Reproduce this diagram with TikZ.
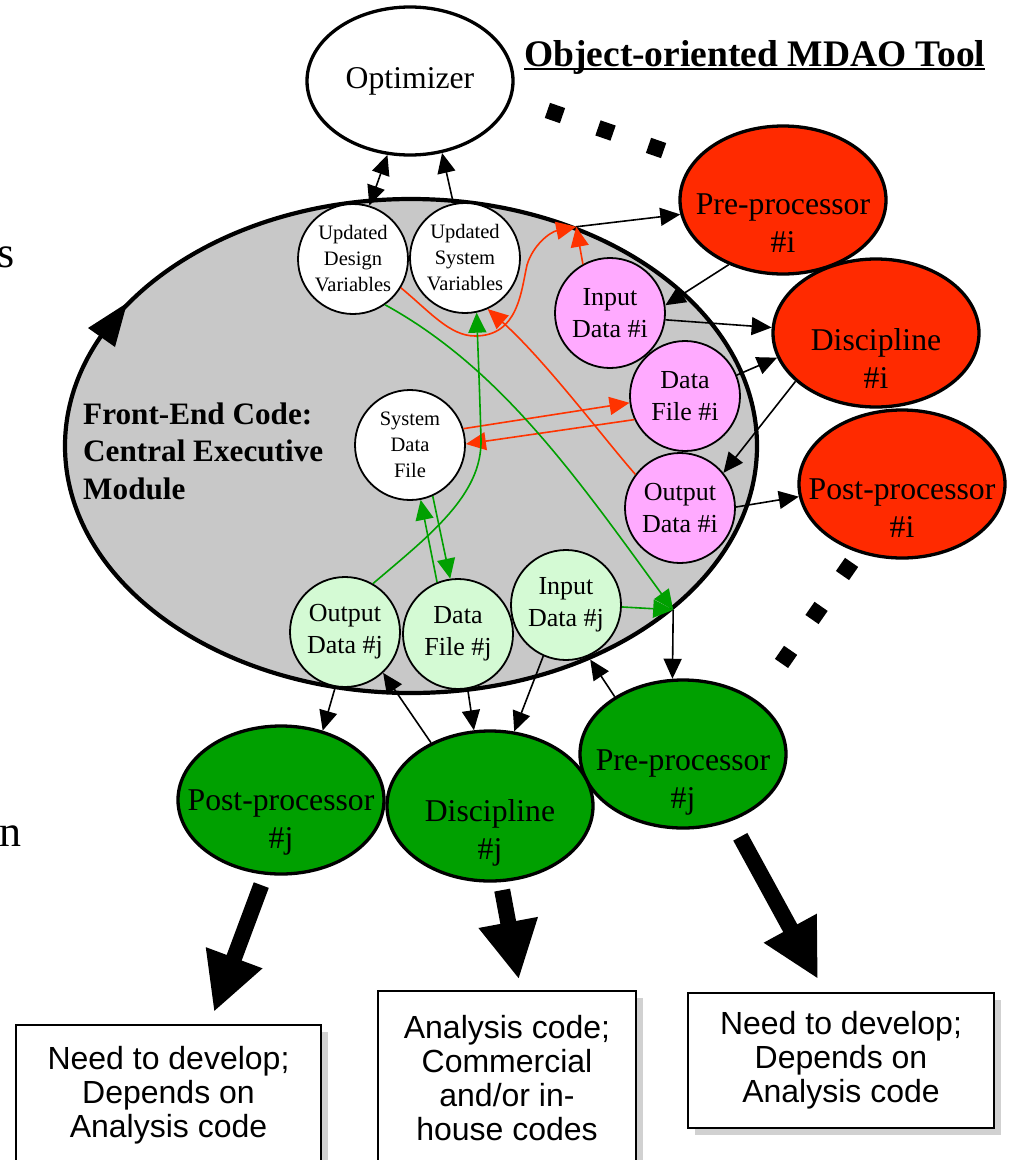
\documentclass[tikz,border=0pt]{standalone}
\usepackage{fontspec}
\setmainfont{Liberation Serif}
\newfontfamily\boxfont{Liberation Sans}
\usetikzlibrary{arrows.meta,shapes.geometric,shadows}
\definecolor{modgrey}{RGB}{200,200,200}
\definecolor{redfill}{RGB}{255,42,0}
\definecolor{redline}{RGB}{255,51,0}
\definecolor{greenfill}{RGB}{0,160,0}
\definecolor{greenline}{RGB}{0,160,0}
\definecolor{pinkfill}{RGB}{255,170,255}
\definecolor{lightgreen}{RGB}{212,250,212}
\newcommand\inell[2]{\makebox[0pt]{\raisebox{#1}[0pt][0pt]{\begin{tabular}{@{}c@{}}#2\end{tabular}}}}
\begin{document}
\begin{tikzpicture}[x=1pt,y=-1pt,
  every node/.style={inner sep=0pt},
  ell/.style={ellipse, draw, line width=3.3pt, minimum width=206pt, minimum height=148pt,
    font=\fontsize{31.7}{38.5}\selectfont},
  redell/.style={ell, fill=redfill},
  grnell/.style={ell, fill=greenfill},
  circ/.style={circle, draw, line width=1.8pt, minimum size=110pt, align=center},
  smallcirc/.style={circ, fill=white, font=\fontsize{20.5}{26}\selectfont},
  pinkcirc/.style={circ, fill=pinkfill, font=\fontsize{26}{32}\selectfont},
  ltgcirc/.style={circ, fill=lightgreen, font=\fontsize{26}{32}\selectfont},
  conn/.style={line width=1.6pt, -{Triangle[length=20pt,width=18pt]}},
  conntwo/.style={line width=1.6pt, {Triangle[length=20pt,width=18pt]}-{Triangle[length=20pt,width=18pt]}},
  redconn/.style={conn, redline},
  grnconn/.style={conn, greenline},
  fat/.style={line width=16pt, -{Triangle[length=58pt,width=56pt]}},
  infobox/.style={rectangle, draw, line width=1.5pt, fill=white, align=center,
    font=\boxfont\fontsize{32}{34}\selectfont,
    drop shadow={shadow xshift=7pt, shadow yshift=-7pt, fill=black!40, opacity=0.45}},
  dots/.style={line width=16pt, dash pattern=on 16pt off 37.5pt}
]
\fill[white] (0,0) rectangle (1017,1160);
\useasboundingbox (0,0) rectangle (1017,1160);

% fragments of cut-off text at the left edge
\node[anchor=base east, font=\fontsize{44}{50}\selectfont] (frags) at (15,267) {s};
\node[anchor=base east, font=\fontsize{44}{50}\selectfont] (fragn) at (22,846) {n};

% central module
\node[ellipse, draw, line width=4.2pt, fill=modgrey, minimum width=692pt, minimum height=494pt] (module) at (411,446) {};
\fill (127,303) -- (88,328) -- (115,347) -- cycle;

\node[anchor=west, align=left, font=\bfseries\fontsize{31.2}{37.5}\selectfont] (fe) at (83,451)
  {Front-End Code:\\Central Executive\\Module};

% title
\node[anchor=base west, font=\bfseries\fontsize{37.5}{44}\selectfont] (title) at (524,66) {Object-oriented MDAO Tool};
\draw[line width=2.5pt] ([yshift=-3pt]title.base west) -- ([yshift=-3pt]title.base east);

% optimizer
\node[ell, fill=white] (opt) at (410,81) {Optimizer};

% red discipline chain
\node[redell] (prei) at (783,200) {\inell{-32pt}{Pre-processor\\\#i}};
\node[redell] (disci) at (876,333) {\inell{-35pt}{Discipline\\\#i}};
\node[redell] (posti) at (902,484) {\inell{-33pt}{Post-processor\\\#i}};

% green discipline chain
\node[grnell] (prej) at (683,754) {\inell{-34pt}{Pre-processor\\\#j}};
\node[grnell, minimum height=150pt] (discj) at (490,806) {\inell{-33pt}{Discipline\\\#j}};
\node[grnell] (postj) at (281,800) {\inell{-28pt}{Post-processor\\\#j}};

% circles inside module
\node[smallcirc] (udv) at (353,259) {Updated\\Design\\Variables};
\node[smallcirc] (usv) at (465,258) {Updated\\System\\Variables};
\node[smallcirc] (sdf) at (410,445) {System\\Data\\File};
\node[pinkcirc] (idi) at (610,313) {Input\\Data \#i};
\node[pinkcirc] (dfi) at (685,396) {Data\\File \#i};
\node[pinkcirc] (odi) at (680,508) {Output\\Data \#i};
\node[ltgcirc] (odj) at (345,632) {Output\\Data \#j};
\node[ltgcirc] (dfj) at (458,634) {Data\\File \#j};
\node[ltgcirc] (idj) at (566,605) {Input\\Data \#j};

% boxes
\node[infobox, minimum width=305pt, minimum height=140pt] (box1) at (168.5,1095) {Need to develop;\\Depends on\\Analysis code};
\node[infobox, minimum width=258pt, minimum height=174pt] (box2) at (507,1078) {Analysis code;\\Commercial\\and/or in-\\house codes};
\node[infobox, minimum width=306pt, minimum height=135pt] (box3) at (841,1060.5) {Need to develop;\\Depends on\\Analysis code};

% dotted separators
\draw[dots] (547.4,110.4) -- (663.6,150.6);
\draw[dots] (851.6,562.4) -- (781.4,663.6);

% optimizer links
\draw[conntwo] (udv.73) -- (opt.-107);
\draw[conn] (usv.102) -- (opt.-66);

% red (discipline i) links
\coordinate (ri) at (module.53.7);
\draw[conn] (ri) -- (prei.188);
\draw[redconn] (idi.119) -- (ri);
\draw[redconn] (udv.-31) .. controls (430,312) and (450,336) .. (475,336)
  .. controls (518,336) and (521,292) .. (527,265)
  .. controls (533,245) and (550,232) .. (ri);
\draw[redconn] (odi.143) .. controls (605,440) and (545,360) .. (usv.-66);
\draw[conn] (prei.-130) -- (idi.8);
\draw[conn] (idi.-7) -- (disci.177);
\draw[conn] (dfi.22) -- (disci.194);
\draw[conn] (disci.211) -- (odi.39);
\draw[conn] (odi.1) -- (posti.187);
\draw[redconn] (sdf.17) -- (dfi.187);
\draw[redconn] (dfi.205) -- (sdf.1);

% green (discipline j) links
\coordinate (gj) at (module.-32);
\draw[grnconn] (udv.-55) .. controls (500,368) and (575,475) .. (gj);
\draw[grnconn] (idj.-2) -- (gj);
\draw[conn] (gj) -- (prej.98);
\draw[grnconn] (odj.60) .. controls (430,535) and (482,495) .. (481,440)
  .. controls (480,400) and (478,350) .. (usv.-78);
\draw[grnconn] (sdf.-66) -- (dfj.98);
\draw[grnconn] (dfj.112) -- (sdf.-79);
\draw[conn] (odj.-100) -- (postj.59);
\draw[conn] (discj.133) -- (odj.-47);
\draw[conn] (dfj.-80) -- (discj.102);
\draw[conn] (idj.-114) -- (discj.72);
\draw[conn] (prej.140) -- (module.-50);

% fat arrows to boxes
\draw[fat, shorten <=11pt, shorten >=13pt] (postj.-102) -- (box1.60);
\draw[fat, shorten <=8pt, shorten >=11pt] (discj.-82) -- (box2.81);
\draw[fat, shorten <=18pt, shorten >=15pt] (prej.-54) -- (box3.103);
\end{tikzpicture}
\end{document}
